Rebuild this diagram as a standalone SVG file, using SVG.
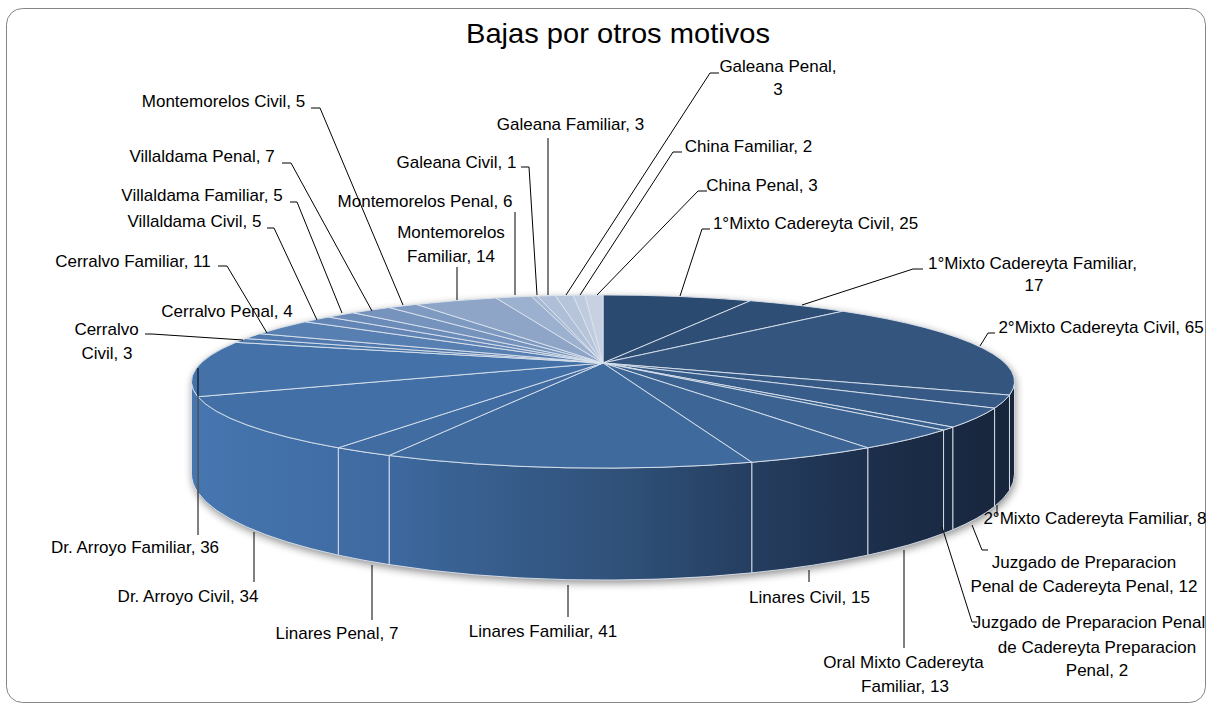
<svg xmlns="http://www.w3.org/2000/svg" width="1209" height="710" viewBox="0 0 1209 710">
<style>
.lbl{font-family:"Liberation Sans",Arial,sans-serif;font-size:17px;fill:#000;text-anchor:middle}
.ttl{font-family:"Liberation Sans",Arial,sans-serif;font-size:28px;fill:#000;text-anchor:middle}
.sep{stroke:#dce4ee;stroke-width:0.9;stroke-linejoin:round}
.side{fill:url(#sideGrad)}
.ld{fill:none;stroke:#000;stroke-width:1}
</style>
<defs>
<linearGradient id="sideGrad" gradientUnits="userSpaceOnUse" x1="191" y1="0" x2="1015" y2="0">
<stop offset="0" stop-color="#4676b0"/>
<stop offset="0.245" stop-color="#3e69a0"/>
<stop offset="0.3" stop-color="#3a6395"/>
<stop offset="0.53" stop-color="#2f5078"/>
<stop offset="0.68" stop-color="#253e60"/>
<stop offset="0.82" stop-color="#1d2f4c"/>
<stop offset="1" stop-color="#17253b"/>
</linearGradient>
<filter id="shadow" x="-10%" y="-20%" width="120%" height="140%">
<feGaussianBlur stdDeviation="4"/>
</filter>
</defs>
<rect x="0" y="0" width="1209" height="710" fill="#fff"/>
<rect x="6.5" y="8.5" width="1199" height="694" rx="16" ry="16" fill="#fff" stroke="#858585" stroke-width="1"/>
<text class="ttl" x="618" y="43" textLength="304" lengthAdjust="spacingAndGlyphs">Bajas por otros motivos</text>

<path d="M191.47 381.53 A411.53 86.56 0 0 1 603 294.97 A411.53 86.56 0 0 1 1014.53 381.53 L1014.53 473.75 A411.53 106.3 0 0 1 603 580.05 A411.53 106.3 0 0 1 191.47 473.75 Z" fill="#000" opacity="0.45" transform="translate(1,3)" filter="url(#shadow)"/>

<g id="s01">
<path class="sep" fill="#2b4a70" d="M603 363 L603 294.96 A411.53 86.56 0 0 1 750.45 300.71 Z"/>
<text class="lbl" x="815.5" y="229">1°Mixto Cadereyta Civil, 25</text>
</g>
<g id="s02">
<path class="sep" fill="#2e4e76" d="M603 363 L750.45 300.71 A411.53 86.56 0 0 1 842.90 311.19 Z"/>
<text class="lbl" x="1032.5" y="269">1°Mixto Cadereyta Familiar,</text>
<text class="lbl" x="1034" y="291">17</text>
</g>
<g id="s03">
<path class="side sep" d="M1014.53 381.53 A411.53 86.56 0 0 1 1009.47 395.07 L1009.47 490.38 A411.53 106.3 0 0 0 1014.53 473.75 Z"/>
<path class="sep" fill="#33557e" d="M603 363 L842.90 311.19 A411.53 86.56 0 0 1 1009.47 395.07 Z"/>
<text class="lbl" x="1101" y="333">2°Mixto Cadereyta Civil, 65</text>
</g>
<g id="s04">
<path class="side sep" d="M1009.47 395.07 A411.53 86.56 0 0 1 994.57 408.16 L994.57 506.46 A411.53 106.3 0 0 0 1009.47 490.38 Z"/>
<path class="sep" fill="#365a85" d="M603 363 L1009.47 395.07 A411.53 86.56 0 0 1 994.57 408.16 Z"/>
<text class="lbl" x="1095" y="524">2°Mixto Cadereyta Familiar, 8</text>
</g>
<g id="s05">
<path class="side sep" d="M994.57 408.16 A411.53 86.56 0 0 1 952.76 427.14 L952.76 529.76 A411.53 106.3 0 0 0 994.57 506.46 Z"/>
<path class="sep" fill="#385d8a" d="M603 363 L994.57 408.16 A411.53 86.56 0 0 1 952.76 427.14 Z"/>
<text class="lbl" x="1084" y="568">Juzgado de Preparacion</text>
<text class="lbl" x="1084" y="592">Penal de Cadereyta Penal, 12</text>
</g>
<g id="s06">
<path class="side sep" d="M952.76 427.14 A411.53 86.56 0 0 1 943.54 430.13 L943.54 533.43 A411.53 106.3 0 0 0 952.76 529.76 Z"/>
<path class="sep" fill="#3a608e" d="M603 363 L952.76 427.14 A411.53 86.56 0 0 1 943.54 430.13 Z"/>
<text class="lbl" x="1089" y="628">Juzgado de Preparacion Penal</text>
<text class="lbl" x="1097" y="653">de Cadereyta Preparacion</text>
<text class="lbl" x="1097" y="676">Penal, 2</text>
</g>
<g id="s07">
<path class="side sep" d="M943.54 430.13 A411.53 86.56 0 0 1 867.75 447.80 L867.75 555.13 A411.53 106.3 0 0 0 943.54 533.43 Z"/>
<path class="sep" fill="#3b6291" d="M603 363 L943.54 430.13 A411.53 86.56 0 0 1 867.75 447.80 Z"/>
<text class="lbl" x="903.5" y="668">Oral Mixto Cadereyta</text>
<text class="lbl" x="905" y="692">Familiar, 13</text>
</g>
<g id="s08">
<path class="side sep" d="M867.75 447.80 A411.53 86.56 0 0 1 751.74 462.24 L751.74 572.87 A411.53 106.3 0 0 0 867.75 555.13 Z"/>
<path class="sep" fill="#3d6595" d="M603 363 L867.75 447.80 A411.53 86.56 0 0 1 751.74 462.24 Z"/>
<text class="lbl" x="809.5" y="603">Linares Civil, 15</text>
</g>
<g id="s09">
<path class="side sep" d="M751.74 462.24 A411.53 86.56 0 0 1 389.10 455.48 L389.10 564.57 A411.53 106.3 0 0 0 751.74 572.87 Z"/>
<path class="sep" fill="#3f6a9d" d="M603 363 L751.74 462.24 A411.53 86.56 0 0 1 389.10 455.48 Z"/>
<text class="lbl" x="543" y="637">Linares Familiar, 41</text>
</g>
<g id="s10">
<path class="side sep" d="M389.10 455.48 A411.53 86.56 0 0 1 338.25 447.80 L338.25 555.13 A411.53 106.3 0 0 0 389.10 564.57 Z"/>
<path class="sep" fill="#416ca1" d="M603 363 L389.10 455.48 A411.53 86.56 0 0 1 338.25 447.80 Z"/>
<text class="lbl" x="337" y="639">Linares Penal, 7</text>
</g>
<g id="s11">
<path class="side sep" d="M338.25 447.80 A411.53 86.56 0 0 1 197.85 396.71 L197.85 492.39 A411.53 106.3 0 0 0 338.25 555.13 Z"/>
<path class="sep" fill="#426fa5" d="M603 363 L338.25 447.80 A411.53 86.56 0 0 1 197.85 396.71 Z"/>
<text class="lbl" x="188" y="602">Dr. Arroyo Civil, 34</text>
</g>
<g id="s12">
<path class="side sep" d="M197.85 396.71 A411.53 86.56 0 0 1 191.47 381.53 L191.47 473.75 A411.53 106.3 0 0 0 197.85 492.39 Z"/>
<path class="sep" fill="#4472a8" d="M603 363 L197.85 396.71 A411.53 86.56 0 0 1 235.98 342.36 Z"/>
<text class="lbl" x="135" y="553">Dr. Arroyo Familiar, 36</text>
</g>
<g id="s13">
<path class="sep" fill="#4b77ab" d="M603 363 L235.98 342.36 A411.53 86.56 0 0 1 245.74 338.56 Z"/>
<text class="lbl" x="106.5" y="335">Cerralvo</text>
<text class="lbl" x="107" y="359">Civil, 3</text>
</g>
<g id="s14">
<path class="sep" fill="#5179ad" d="M603 363 L245.74 338.56 A411.53 86.56 0 0 1 259.94 333.71 Z"/>
<text class="lbl" x="227" y="317">Cerralvo Penal, 4</text>
</g>
<g id="s15">
<path class="sep" fill="#587fb1" d="M603 363 L259.94 333.71 A411.53 86.56 0 0 1 305.29 321.76 Z"/>
<text class="lbl" x="133" y="267">Cerralvo Familiar, 11</text>
</g>
<g id="s16">
<path class="sep" fill="#6385b5" d="M603 363 L305.29 321.76 A411.53 86.56 0 0 1 328.44 317.04 Z"/>
<text class="lbl" x="194.5" y="227">Villaldama Civil, 5</text>
</g>
<g id="s17">
<path class="sep" fill="#6b8bb8" d="M603 363 L328.44 317.04 A411.53 86.56 0 0 1 352.98 312.77 Z"/>
<text class="lbl" x="202" y="201">Villaldama Familiar, 5</text>
</g>
<g id="s18">
<path class="sep" fill="#7593bd" d="M603 363 L352.98 312.77 A411.53 86.56 0 0 1 389.24 307.55 Z"/>
<text class="lbl" x="202" y="162">Villaldama Penal, 7</text>
</g>
<g id="s19">
<path class="sep" fill="#7e9ac1" d="M603 363 L389.24 307.55 A411.53 86.56 0 0 1 416.31 304.38 Z"/>
<text class="lbl" x="223.5" y="107">Montemorelos Civil, 5</text>
</g>
<g id="s20">
<path class="sep" fill="#8ea5c8" d="M603 363 L416.31 304.38 A411.53 86.56 0 0 1 495.98 297.94 Z"/>
<text class="lbl" x="451" y="238">Montemorelos</text>
<text class="lbl" x="451" y="262">Familiar, 14</text>
</g>
<g id="s21">
<path class="sep" fill="#9cb0cf" d="M603 363 L495.98 297.94 A411.53 86.56 0 0 1 531.32 296.28 Z"/>
<text class="lbl" x="425" y="207">Montemorelos Penal, 6</text>
</g>
<g id="s22">
<path class="sep" fill="#a6b8d3" d="M603 363 L531.32 296.28 A411.53 86.56 0 0 1 537.25 296.07 Z"/>
<text class="lbl" x="456.5" y="168">Galeana Civil, 1</text>
</g>
<g id="s23">
<path class="sep" fill="#afbfd7" d="M603 363 L537.25 296.07 A411.53 86.56 0 0 1 555.11 295.55 Z"/>
<text class="lbl" x="570.5" y="130">Galeana Familiar, 3</text>
</g>
<g id="s24">
<path class="sep" fill="#b7c5da" d="M603 363 L555.11 295.55 A411.53 86.56 0 0 1 573.04 295.19 Z"/>
<text class="lbl" x="778" y="72">Galeana Penal,</text>
<text class="lbl" x="778" y="95">3</text>
</g>
<g id="s25">
<path class="sep" fill="#bfcbde" d="M603 363 L573.04 295.19 A411.53 86.56 0 0 1 585.02 295.04 Z"/>
<text class="lbl" x="748.5" y="152">China Familiar, 2</text>
</g>
<g id="s26">
<path class="sep" fill="#c7d1e2" d="M603 363 L585.02 295.04 A411.53 86.56 0 0 1 603 294.96 Z"/>
<text class="lbl" x="762" y="191">China Penal, 3</text>
</g>

<g id="connectors">
<polyline class="ld" points="680,296 702,229 710,229"/>
<polyline class="ld" points="802,305 913,269 923,269"/>
<polyline class="ld" points="980,346 988,333 995,333"/>
<polyline class="ld" points="997,505 997,515"/>
<polyline class="ld" points="972,525 982,550 988,550"/>
<polyline class="ld" points="942,527 972,622 977,622"/>
<polyline class="ld" points="904,550 904,648"/>
<polyline class="ld" points="809,570 809,582"/>
<polyline class="ld" points="568,585 568,617"/>
<polyline class="ld" points="372,565 372,620"/>
<polyline class="ld" points="254,532 254,582"/>
<polyline class="ld" points="198,368 198,535"/>
<polyline class="ld" points="145,334 152,334 243,340"/>
<polyline class="ld" points="218,266 227,266 267,333"/>
<polyline class="ld" points="267,228 274,228 317,320"/>
<polyline class="ld" points="290,202 297,202 342,313"/>
<polyline class="ld" points="282,163 291,163 372,311"/>
<polyline class="ld" points="311,108 320,108 403,305"/>
<polyline class="ld" points="457,300 457,267"/>
<polyline class="ld" points="515,295 515,212"/>
<polyline class="ld" points="521,167 529,167 537,295"/>
<polyline class="ld" points="548,295 548,138"/>
<polyline class="ld" points="566,295 710,73 719,73"/>
<polyline class="ld" points="580,295 673,152 682,152"/>
<polyline class="ld" points="597,295 698,191 707,191"/>
</g>
</svg>
